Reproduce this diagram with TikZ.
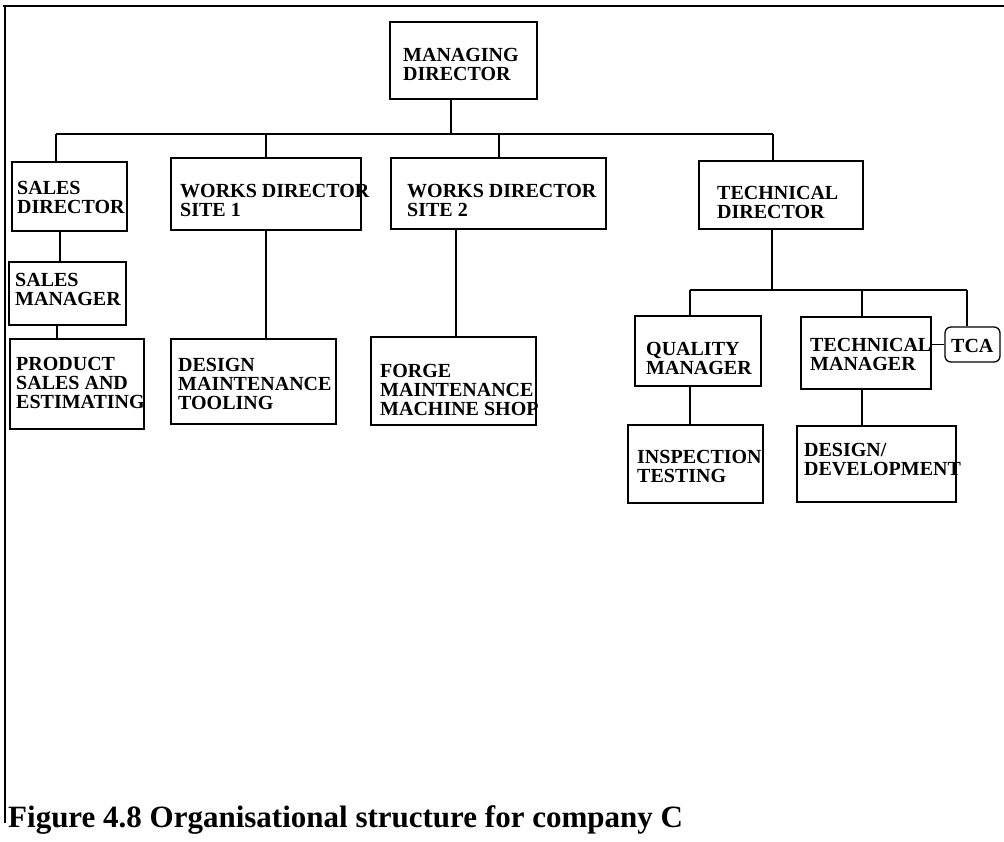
\documentclass[tikz,border=0pt]{standalone}
\usepackage{fontspec}
\setmainfont{Liberation Serif}
\begin{document}
\begin{tikzpicture}[x=1pt,y=-1pt,
  box/.style={draw, line width=1.3pt, inner sep=0pt, rectangle},
  % anchored at the baseline of the last line of the text
  lbl/.style={anchor=base west, inner sep=0pt, align=left,
    font=\bfseries\fontsize{20}{18.8}\selectfont},
  link/.style={line width=1.1pt},
  frame/.style={line width=2.8pt}]
\useasboundingbox[fill=white] (0,0) rectangle (1004,841);

% outer frame (top and left edges only)
\draw[frame] (3,6) -- (1004,6);
\draw[frame] (5,5) -- (5,823);

% boxes
\node[box, minimum width=147pt, minimum height=77pt] (md) at (463.5,60.5) {};
\node[box, minimum width=115pt, minimum height=69pt] (sd) at (69.5,196.5) {};
\node[box, minimum width=190pt, minimum height=72pt] (wa) at (266,194) {};
\node[box, minimum width=215pt, minimum height=71pt] (wb) at (498.5,193.5) {};
\node[box, minimum width=164pt, minimum height=68pt] (td) at (781,195) {};
\node[box, minimum width=117pt, minimum height=63pt] (sm) at (67.5,293.5) {};
\node[box, minimum width=134pt, minimum height=90pt] (ps) at (77,384) {};
\node[box, minimum width=165pt, minimum height=85pt] (dm) at (253.5,381.5) {};
\node[box, minimum width=165pt, minimum height=88pt] (fg) at (453.5,381) {};
\node[box, minimum width=126pt, minimum height=70pt] (qm) at (698,351) {};
\node[box, minimum width=130pt, minimum height=72pt] (tm) at (866,353) {};
\node[box, rounded corners=6pt, minimum width=55pt, minimum height=35pt] (tca) at (972.5,344.5) {};
\node[box, minimum width=135pt, minimum height=78pt] (it) at (695.5,464) {};
\node[box, minimum width=159pt, minimum height=76pt] (dd) at (876.5,464) {};

% box texts
\node[lbl] (mdt) at (403,80) {MANAGING\\DIRECTOR};
\node[lbl] (sdt) at (17,213) {SALES\\DIRECTOR};
\node[lbl] (wat) at (180,216) {WORKS DIRECTOR\\SITE 1};
\node[lbl] (wbt) at (407,216) {WORKS DIRECTOR\\SITE 2};
\node[lbl] (tdt) at (717,218) {TECHNICAL\\DIRECTOR};
\node[lbl] (smt) at (15,305) {SALES\\MANAGER};
\node[lbl] (pst) at (16,408) {PRODUCT\\SALES AND\\ESTIMATING};
\node[lbl] (dmt) at (178,409) {DESIGN\\MAINTENANCE\\TOOLING};
\node[lbl] (fgt) at (380,415) {FORGE\\MAINTENANCE\\MACHINE SHOP};
\node[lbl] (qmt) at (646,374) {QUALITY\\MANAGER};
\node[lbl] (tmt) at (810,370) {TECHNICAL\\MANAGER};
\node[lbl] (tcat) at (951,352) {TCA};
\node[lbl] (itt) at (637,482) {INSPECTION\\TESTING};
\node[lbl] (ddt) at (804,475) {DESIGN/\\DEVELOPMENT};

% top-level bus
\coordinate (busL) at (56,134);
\coordinate (busR) at (773,134);
\coordinate (j0) at (451,134);
\coordinate (j2) at (266,134);
\coordinate (j3) at (499,134);
\draw[link] (busL) -- (busR);
\draw[link] (j0 |- md.south) -- (j0);
\draw[link] (busL) -- (busL |- sd.north);
\draw[link] (j2) -- (j2 |- wa.north);
\draw[link] (j3) -- (j3 |- wb.north);
\draw[link] (busR) -- (busR |- td.north);

% sales chain
\coordinate (k1) at (60,0);
\coordinate (k2) at (57,0);
\draw[link] (k1 |- sd.south) -- (k1 |- sm.north);
\draw[link] (k2 |- sm.south) -- (k2 |- ps.north);

% works chains
\draw[link] (j2 |- wa.south) -- (j2 |- dm.north);
\coordinate (k3) at (456,0);
\draw[link] (k3 |- wb.south) -- (k3 |- fg.north);

% technical branch
\coordinate (tbus) at (772,290);
\coordinate (tL) at (690,290);
\coordinate (tM) at (862,290);
\coordinate (tR) at (967,290);
\draw[link] (tbus |- td.south) -- (tbus);
\draw[link] (tL) -- (tR);
\draw[link] (tL) -- (tL |- qm.north);
\draw[link] (tM) -- (tM |- tm.north);
\draw[link] (tR) -- (tR |- tca.north);
\draw[link] (tca.west) -- (tca.west -| tm.east);
\draw[link] (tL |- qm.south) -- (tL |- it.north);
\draw[link] (tM |- tm.south) -- (tM |- dd.north);

% caption
\node[anchor=base west, inner sep=0pt, font=\bfseries\fontsize{31}{31}\selectfont]
  (cap) at (8,827) {Figure 4.8 Organisational structure for company C};
\end{tikzpicture}
\end{document}
